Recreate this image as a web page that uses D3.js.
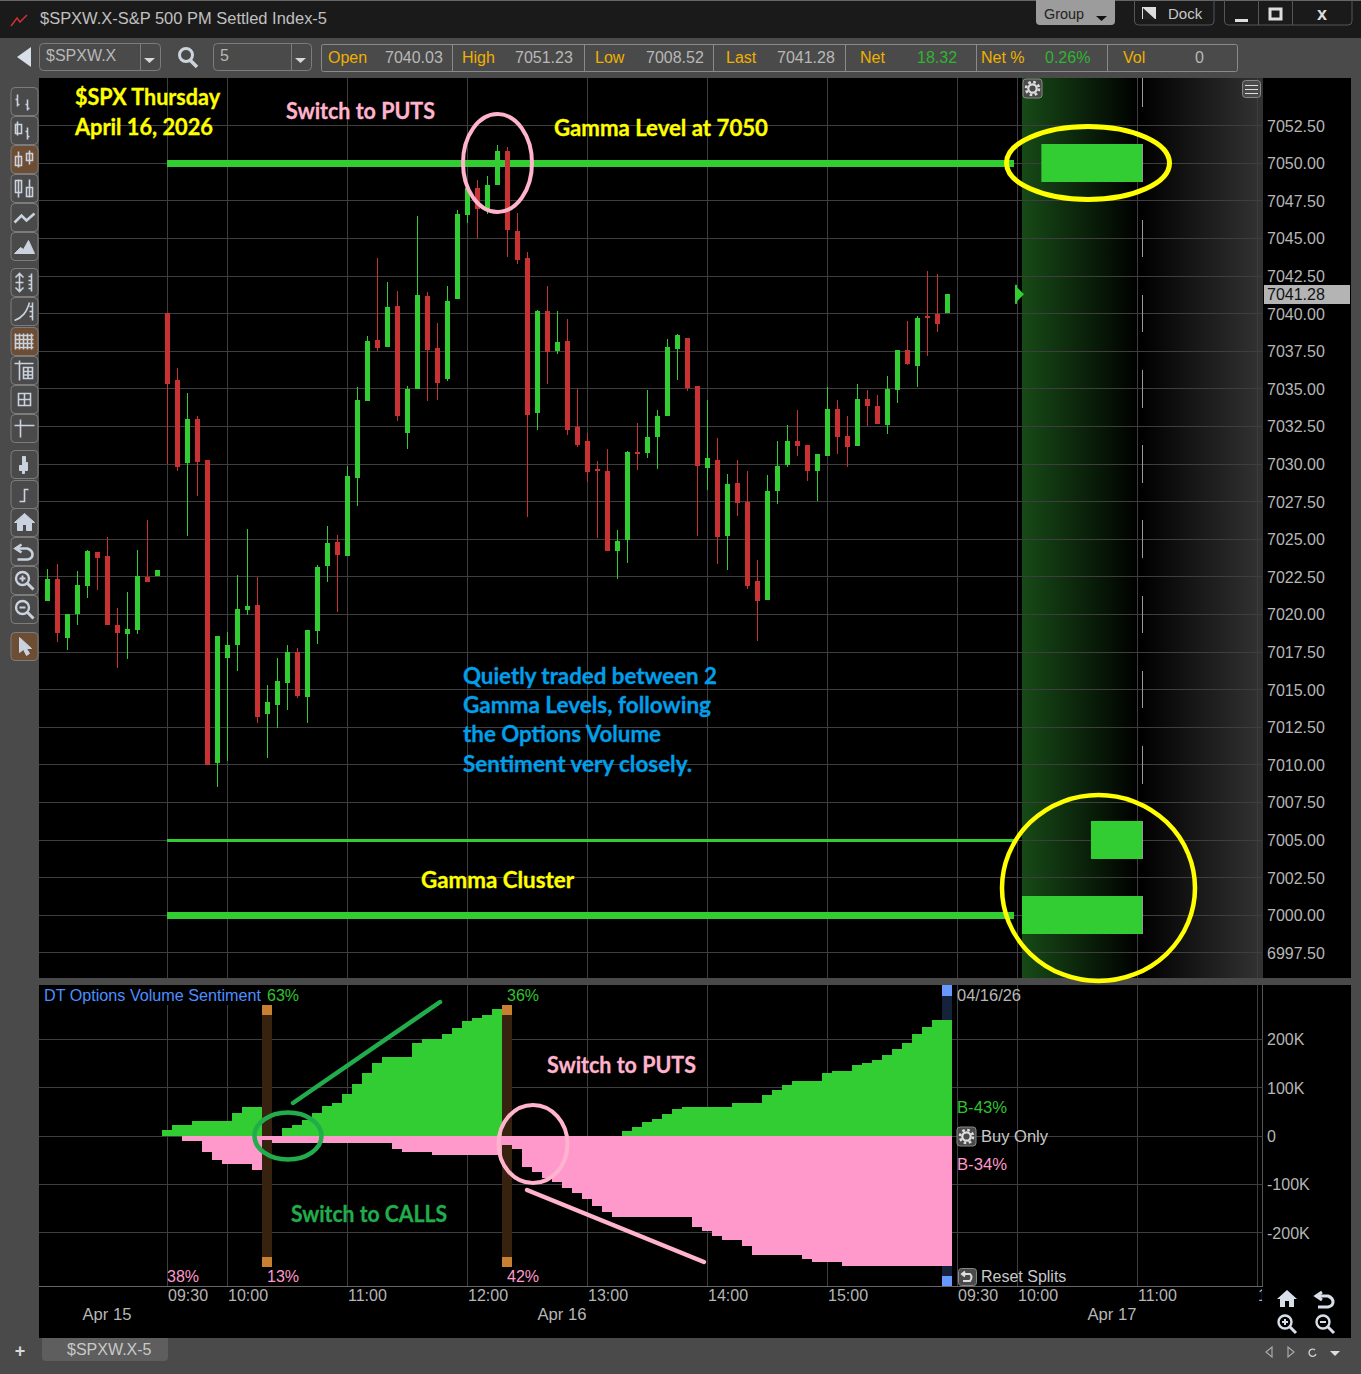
<!DOCTYPE html>
<html><head><meta charset="utf-8">
<script src="https://cdn.jsdelivr.net/npm/d3@7/dist/d3.min.js"></script>
<style>
html,body{margin:0;padding:0;background:#4a4a4a;overflow:hidden}
svg{display:block}
text{font-family:"Liberation Sans",Arial,sans-serif;dominant-baseline:central}
.note{font-family:Lato,"Open Sans",sans-serif;font-weight:700;stroke-width:.3px}
.axis path.domain{display:none}
.axis text{fill:#b6b6b6;font-size:16px;font-family:"Liberation Sans",Arial,sans-serif;dominant-baseline:central}
</style></head><body><div id="c"></div>
<script>
// ---------- data: 5-minute candles, Apr 15 tail then Apr 16 session
const opens=[7020.89,7022.35,7018.43,7020.03,7021.89,7024.15,7023.88,7019.29,7018.70,7018.96,7022.49,7022.55,
7040.03,7035.59,7030.07,7032.99,7030.27,7010.12,7017.10,7017.97,7020.29,7020.62,7013.38,7013.98,7015.44,7017.50,7014.51,7018.90,7023.22,7024.81,7023.88,7029.07,7034.19,7038.24,7037.78,7040.51,7032.06,7034.99,7041.17,7037.71,7035.65,7040.97,7046.56,7048.35,7046.89,7048.55,7050.81,7045.49,7043.70,7033.39,7040.17,7037.51,7038.18,7032.46,7031.53,7029.67,7029.53,7024.22,7024.95,7030.80,7030.73,7031.79,7033.19,7037.65,7038.38,7035.19,7029.73,7030.27,7025.21,7028.74,7027.47,7022.22,7020.96,7028.20,7029.93,7031.53,7031.26,7029.53,7030.53,7033.66,7031.86,7031.20,7034.32,7033.86,7032.59,7034.92,7037.58,7036.52,7039.84,7039.97,7040.04];
const highs=[7023.02,7023.35,7020.03,7022.89,7024.28,7024.15,7025.15,7020.43,7021.49,7024.28,7026.28,7022.95,
7040.03,7036.38,7034.72,7033.19,7030.27,7018.56,7018.83,7022.62,7025.68,7022.49,7015.31,7017.10,7017.97,7017.77,7018.96,7023.28,7025.88,7025.28,7029.87,7035.12,7038.51,7043.70,7042.10,7041.50,7035.19,7046.49,7041.44,7039.37,7041.83,7046.89,7048.35,7048.88,7049.15,7051.23,7051.08,7046.69,7044.10,7040.24,7041.83,7040.17,7039.64,7034.99,7032.06,7030.20,7031.00,7025.61,7030.86,7032.73,7034.92,7033.59,7038.31,7038.64,7038.38,7035.19,7034.26,7031.73,7029.33,7030.27,7029.53,7023.62,7029.27,7031.53,7032.59,7033.59,7031.26,7030.66,7035.12,7034.26,7033.19,7035.32,7034.92,7034.59,7035.85,7037.58,7039.51,7039.84,7042.83,7042.63,7041.28];
const lows=[7020.89,7018.16,7017.63,7019.29,7021.09,7021.62,7019.29,7016.44,7017.03,7018.70,7022.15,7022.55,
7030.00,7029.53,7025.21,7027.87,7009.99,7008.52,7010.25,7016.24,7019.96,7012.78,7010.45,7012.45,7013.64,7014.44,7012.78,7018.03,7022.15,7020.16,7023.88,7027.21,7034.19,7037.51,7037.78,7032.86,7031.00,7034.99,7034.19,7034.26,7035.52,7040.97,7046.02,7045.03,7046.62,7048.55,7043.76,7043.30,7026.48,7032.26,7035.32,7037.31,7031.93,7031.13,7028.80,7025.08,7024.22,7022.35,7023.42,7029.60,7030.40,7029.67,7033.19,7035.59,7034.85,7025.21,7028.27,7023.35,7022.95,7026.54,7021.69,7018.23,7020.96,7027.34,7029.80,7030.53,7028.87,7027.54,7030.53,7030.66,7029.80,7031.20,7032.53,7032.66,7031.99,7034.06,7036.58,7035.12,7037.18,7038.78,7040.04];
const closes=[7022.35,7018.76,7020.03,7021.95,7024.22,7023.75,7019.29,7018.76,7019.03,7022.55,7022.15,7022.95,
7035.32,7029.80,7032.99,7030.13,7009.99,7018.56,7017.97,7020.36,7020.56,7013.18,7014.18,7015.57,7017.50,7014.57,7018.96,7023.15,7024.75,7023.95,7029.20,7034.26,7038.18,7037.71,7040.44,7033.19,7034.99,7041.24,7037.58,7035.39,7040.84,7046.62,7048.35,7046.95,7048.55,7050.81,7045.56,7043.56,7033.26,7040.17,7037.45,7038.11,7032.26,7031.26,7029.47,7029.53,7024.22,7024.88,7030.80,7030.66,7031.79,7033.19,7037.78,7038.58,7035.05,7029.87,7030.40,7025.15,7028.67,7027.41,7021.89,7020.89,7028.20,7029.87,7031.53,7031.20,7029.53,7030.66,7033.66,7031.79,7031.13,7034.32,7033.86,7032.66,7034.99,7037.58,7036.65,7039.71,7039.71,7039.31,7041.28];
const priceTicks=[6997.5,7000,7002.5,7005,7007.5,7010,7012.5,7015,7017.5,7020,7022.5,7025,7027.5,7030,7032.5,7035,7037.5,7040,7042.5,7045,7047.5,7050,7052.5];
const lastPrice=7041.28;
// gamma profile
const gammaStrikes=[7055,7050,7045,7040,7035,7030,7025,7020,7015,7010,7005,7000];
const gammaVolumes=[0.8,84,0.8,0.8,0.8,0.8,0.8,0.8,0.8,0.8,43,100];
const gammaLines=[7050,7005,7000];
const gammaLineWeights=[7,3,7];
// options volume sentiment (thousands), one value per Apr 16 bar
const buySide=[12.4,22.7,22.7,30.9,30.9,30.9,30.9,47.4,59.8,59.8,0,0,16.5,22.7,33,47.4,61.8,68,86.6,107,130,150.5,163,163,163,192,200,200,210,223,237,243,249,262,
0,0,0,0,0,0,0,0,0,0,0,0,
10.3,18.6,28.9,35,45.3,55.6,59.8,59.8,59.8,59.8,59.8,68,68,68,84.5,94.8,105,113,113,113,130,134,134,146,150.5,156.6,167,179,192,210,225,239,239];
const sellSide=[0,0,10.3,10.3,33,49.5,57.7,57.7,57.7,70,8.2,14.4,14.4,14.4,14.4,14.4,14.4,14.4,14.4,14.4,14.4,14.4,14.4,26.8,33,33,33,39.2,39.2,39.2,39.2,39.2,39.2,39.2,
18.6,26.8,64,74,86.6,94.8,107,117.5,130,144,156.6,167,167,167,167,167,167,167,167,187.6,195.8,206,214,214,226.7,245,245,245,245,245,253.5,259.7,259.7,259.7,268,268,268,268,268,268,268,268,268,268,268];
const sentimentTicks=[-200,-100,0,100,200];
const splitBars=[10,34];
const timeLabels=["09:30","10:00","11:00","12:00","13:00","14:00","15:00","09:30","10:00","11:00","12:00"];
const timeSlots=[12,18,30,42,54,66,78,91,97,109,121];
const dayLabels=["Apr 15","Apr 16","Apr 17"];
const daySlots=[6,51.5,106.5];
const quoteLabels=["Open","High","Low","Last","Net","Net %","Vol"];
const quoteValues=["7040.03","7051.23","7008.52","7041.28","18.32","0.26%","0"];

// ---------- scales
const W=1361,H=1374;
const GREEN="#32cd32",RED="#c93232",PINK="#ff99cc",GRID="#3e3e3e";
const xB=d3.scaleLinear().domain([0,1]).range([47,57]);
const yP=d3.scaleLinear().domain([7000,7050]).range([915.2,163.2]);
const yS=d3.scaleLinear().domain([-100,100]).range([1184.4,1087.6]);
const xG=d3.scaleLinear().domain([0,100]).range([1143,1022]);
const OFF=12; // first Apr 16 bar slot

const svg=d3.select("#c").append("svg").attr("width",W).attr("height",H);
const defs=svg.append("defs");
function grad(id,a,b){const g=defs.append("linearGradient").attr("id",id);g.append("stop").attr("offset",0).attr("stop-color",a);g.append("stop").attr("offset",1).attr("stop-color",b);}
grad("gGreen","#174a17","#000000");grad("gGray","#000000","#333333");
defs.append("clipPath").attr("id","clipTop").append("rect").attr("x",39).attr("y",78).attr("width",1224).attr("height",900);
defs.append("clipPath").attr("id","clipTime").append("rect").attr("x",39).attr("y",1286).attr("width",1223).attr("height",30);

function R(p,x,y,w,h,f,o={}){const r=p.append("rect").attr("x",x).attr("y",y).attr("width",w).attr("height",h).attr("fill",f);
 if(o.stroke)r.attr("stroke",o.stroke).attr("stroke-width",o.sw||1);if(o.rx)r.attr("rx",o.rx);return r;}
function T(p,x,y,s,fill,size,o={}){const t=p.append("text").attr("x",x).attr("y",y).text(s).attr("fill",fill).attr("font-size",size);
 if(o.anchor)t.attr("text-anchor",o.anchor);if(o.cls)t.attr("class",o.cls).attr("dy",-1).attr("stroke",fill);if(o.len)t.attr("textLength",o.len).attr("lengthAdjust","spacingAndGlyphs");return t;}
function L(p,x1,y1,x2,y2,c,w=1,o={}){const l=p.append("line").attr("x1",x1).attr("y1",y1).attr("x2",x2).attr("y2",y2).attr("stroke",c).attr("stroke-width",w);if(o.cap)l.attr("stroke-linecap",o.cap);return l;}

// ---------- chrome
R(svg,0,0,W,H,"#4a4a4a");
R(svg,0,0,W,38,"#1a1a1a");
L(svg,0,0.5,W,0.5,"#666");
svg.append("path").attr("d","M11 26L17 18L20 22L27 15").attr("fill","none").attr("stroke","#c93232").attr("stroke-width",1.6);
T(svg,40,18,"$SPXW.X-S&P 500 PM Settled Index-5","#c0c0c0",16,{len:287});
// group / dock / window buttons
svg.append("path").attr("d","M1036 0H1115V21a4 4 0 0 1-4 4H1040a4 4 0 0 1-4-4Z").attr("fill","#9c9c9c");
T(svg,1044,13,"Group","#222",15,{len:40});
svg.append("path").attr("d","M1096 16h11l-5.5 5Z").attr("fill","#111");
svg.append("path").attr("d","M1134.5 0V21a4 4 0 0 0 4 4H1210a4 4 0 0 0 4-4V0").attr("fill","none").attr("stroke","#555");
R(svg,1142,7,14,12,"#ddd");svg.append("path").attr("d","M1143 8L1155 19H1143Z").attr("fill","#222");
T(svg,1168,13,"Dock","#c8c8c8",15);
svg.append("path").attr("d","M1224.5 0V21a4 4 0 0 0 4 4H1348a4 4 0 0 0 4-4V0").attr("fill","none").attr("stroke","#555");
L(svg,1258.5,0,1258.5,25,"#555");L(svg,1292.5,0,1292.5,25,"#555");
R(svg,1235,19,13,3,"#ddd");
R(svg,1270,9,11,10,"none",{stroke:"#ddd",sw:3});
T(svg,1322,14,"x","#ddd",18,{anchor:"middle"}).attr("font-weight",700);
// toolbar
svg.append("path").attr("d","M31 47V67L17 57Z").attr("fill","#d8dfe8");
function combo(x,w,d,s){R(svg,x+.5,43.5,w,27,"#4a4a4a",{stroke:"#7c7c7c",rx:4});L(svg,d+.5,44,d+.5,70,"#7c7c7c");T(svg,x+7,55,s,"#b8b8b8",16);
 svg.append("path").attr("d",`M${d+4} 58h11l-5.5 5Z`).attr("fill","#d8d8d8");}
combo(39,121,140,"$SPXW.X");combo(213,98,291,"5");
svg.append("circle").attr("cx",186).attr("cy",55).attr("r",6.5).attr("fill","none").attr("stroke","#ccd4dd").attr("stroke-width",3);
L(svg,190,60,197,67,"#ccd4dd",3.5);
R(svg,321.5,44.5,916,27,"#4a4a4a",{stroke:"#8a8a8a",rx:2});
[452,584,713,845,976,1107].forEach(x=>L(svg,x+.5,45,x+.5,71,"#8a8a8a"));
const qlx=[328,462,595,726,860,981,1123],qvx=[385,515,646,777,917,1045,1195];
quoteLabels.forEach((s,i)=>T(svg,qlx[i],57.5,s,"#f0b000",16));
quoteValues.forEach((s,i)=>T(svg,qvx[i],57.5,s,(i==4||i==5)?"#2fb52f":"#b8b8b8",16));
// black chart area
R(svg,39,78,1312,1260,"#000");
// separator
R(svg,39,978,1312,7,"#4a4a4a");

// ---------- top panel
const topG=svg.append("g").attr("clip-path","url(#clipTop)");
R(topG,1022,78,116,900,"url(#gGreen)");
R(topG,1140,78,123,900,"url(#gGray)");
// grid
topG.append("g").selectAll("line").data(priceTicks).join("line").attr("x1",39).attr("x2",1262)
 .attr("y1",d=>Math.floor(yP(d))+.5).attr("y2",d=>Math.floor(yP(d))+.5).attr("stroke",GRID);
topG.append("g").selectAll("line").data(timeSlots).join("line").attr("y1",78).attr("y2",978)
 .attr("x1",d=>xB(d)+.5).attr("x2",d=>xB(d)+.5).attr("stroke",GRID);
// gamma level lines
gammaLines.forEach((lv,i)=>R(topG,xB(OFF),Math.round(yP(lv)-gammaLineWeights[i]/2),1014-xB(OFF),gammaLineWeights[i],GREEN));
// candles
const idx=d3.range(opens.length);
const cg=topG.append("g");
cg.selectAll("rect.w").data(idx).join("rect").attr("class","w")
 .attr("x",i=>xB(i)).attr("width",1)
 .attr("y",i=>Math.round(yP(highs[i]))).attr("height",i=>Math.round(yP(lows[i]))-Math.round(yP(highs[i])))
 .attr("fill",i=>closes[i]>=opens[i]?GREEN:RED);
cg.selectAll("rect.b").data(idx).join("rect").attr("class","b")
 .attr("x",i=>xB(i)-2).attr("width",5)
 .attr("y",i=>Math.round(yP(Math.max(opens[i],closes[i]))))
 .attr("height",i=>Math.max(2,Math.round(yP(Math.min(opens[i],closes[i])))-Math.round(yP(Math.max(opens[i],closes[i])))))
 .attr("fill",i=>closes[i]>=opens[i]?GREEN:RED);
// gamma profile bars
topG.append("g").selectAll("rect").data(gammaStrikes).join("rect")
 .attr("x",1142).attr("width",1).attr("y",d=>Math.round(yP(d+1.25))).attr("height",d=>Math.round(yP(d-1.25))-Math.round(yP(d+1.25))).attr("fill","#999");
topG.append("g").selectAll("rect").data(gammaStrikes.filter((d,i)=>gammaVolumes[i]>5)).join("rect")
 .attr("x",d=>xG(gammaVolumes[gammaStrikes.indexOf(d)])).attr("width",d=>1142-xG(gammaVolumes[gammaStrikes.indexOf(d)]))
 .attr("y",d=>Math.round(yP(d+1.25))).attr("height",d=>Math.round(yP(d-1.25))-Math.round(yP(d+1.25))).attr("fill",GREEN);
// last price marker
const ly=yP(lastPrice);
R(svg,1015,ly-9.5,2,19,GREEN);
svg.append("path").attr("d",`M1017 ${ly-7}L1024 ${ly}L1017 ${ly+7}Z`).attr("fill",GREEN);

// price axis
svg.append("g").attr("class","axis").attr("transform","translate(1263,0)")
 .call(d3.axisRight(yP).tickValues(priceTicks).tickFormat(d3.format(".2f")).tickSize(0).tickPadding(4))
 .selectAll("text").attr("dy",0);
R(svg,1264,Math.round(ly)-9,86,19,"#b4b4b4");
T(svg,1267,ly+0.5,d3.format(".2f")(lastPrice),"#111",16);

// annotations top
function ell(p,cx,cy,rx,ry,c,w){p.append("ellipse").attr("cx",cx).attr("cy",cy).attr("rx",rx).attr("ry",ry).attr("fill","none").attr("stroke",c).attr("stroke-width",w);}
ell(svg,497.5,163,34.5,49,"#ffb3cc",4);
ell(svg,1088,163,81.5,36.5,"#ffff00",5);
ell(svg,1098.5,888,96.5,93,"#ffff00",4.5);
const Y="#ffff00";
T(svg,75,97,"$SPX Thursday",Y,22,{cls:"note",len:145});
T(svg,75,127,"April 16, 2026",Y,22,{cls:"note",len:138});
T(svg,286,111,"Switch to PUTS","#ffb3cc",22,{cls:"note",len:149});
T(svg,554,128,"Gamma Level at 7050",Y,22,{cls:"note",len:214});
const BL="#009fe8";
T(svg,463,676,"Quietly traded between 2",BL,22,{cls:"note",len:254});
T(svg,463,705,"Gamma Levels, following",BL,22,{cls:"note",len:248});
T(svg,463,734,"the Options Volume",BL,22,{cls:"note",len:198});
T(svg,463,764,"Sentiment very closely.",BL,22,{cls:"note",len:229});
T(svg,421,880,"Gamma Cluster",Y,22,{cls:"note",len:153});

// gear and menu button on panel
function gear(p,cx,cy){R(p,cx-9.5,cy-9.5,19,19,"#4a4a4a",{stroke:"#888",rx:3});
 p.append("circle").attr("cx",cx).attr("cy",cy).attr("r",6.5).attr("fill","none").attr("stroke","#ddd").attr("stroke-width",2.6).attr("stroke-dasharray","2.6 2.5");
 p.append("circle").attr("cx",cx).attr("cy",cy).attr("r",4.2).attr("fill","none").attr("stroke","#ddd").attr("stroke-width",2.2);}
gear(svg,1032.5,88.5);
R(svg,1242.5,80.5,18,17,"#4a4a4a",{stroke:"#888",rx:3});
[85,89,93].forEach(y=>L(svg,1245,y+.5,1258,y+.5,"#ddd"));

// ---------- sentiment panel
const sub=svg.append("g");
sub.append("g").selectAll("line").data(sentimentTicks).join("line").attr("x1",39).attr("x2",1262)
 .attr("y1",d=>Math.floor(yS(d))+.5).attr("y2",d=>Math.floor(yS(d))+.5).attr("stroke",GRID);
sub.append("g").selectAll("line").data(timeSlots).join("line").attr("y1",985).attr("y2",1286)
 .attr("x1",d=>xB(d)+.5).attr("x2",d=>xB(d)+.5).attr("stroke",GRID);
L(sub,1262.5,985,1262.5,1286,"#555");L(sub,39,1286.5,1263,1286.5,"#666");
R(sub,39,985,262,20,"#000");
// split bands
splitBars.forEach(b=>{const x=xB(b+OFF)-5;
 R(sub,x,1005,10,262,"#36220f");R(sub,x,1005,10,10,"#c97f30");R(sub,x,1257,10,10,"#c97f30");});
const xe=xB(78+OFF)-5;
R(sub,xe,985,10,301,"#16213a");R(sub,xe,985,10,11,"#6699ff");R(sub,xe,1276,10,10,"#6699ff");
// bars
sub.append("g").selectAll("rect").data(buySide).join("rect")
 .attr("x",(d,i)=>xB(i+OFF)-5).attr("width",10).attr("y",d=>Math.round(yS(d))).attr("height",d=>Math.round(yS(0))-Math.round(yS(d))).attr("fill",GREEN);
sub.append("g").selectAll("rect").data(sellSide).join("rect")
 .attr("x",(d,i)=>xB(i+OFF)-5).attr("width",10).attr("y",Math.round(yS(0))).attr("height",d=>Math.round(yS(-d))-Math.round(yS(0))).attr("fill",PINK);
// sentiment axis
svg.append("g").attr("class","axis").attr("transform","translate(1263,0)")
 .call(d3.axisRight(yS).tickValues(sentimentTicks).tickFormat(d=>d===0?"0":d+"K").tickSize(0).tickPadding(4))
 .selectAll("text").attr("dy",0);
// time axis
svg.append("g").attr("class","axis").attr("clip-path","url(#clipTime)").attr("transform","translate(0,0)")
 .call(d3.axisBottom(xB).tickValues(timeSlots).tickFormat((d,i)=>timeLabels[i]).tickSize(0).tickPadding(0))
 .selectAll("text").attr("text-anchor","start").attr("y",1295).attr("dy",0).attr("dx",0.5);
dayLabels.forEach((s,i)=>T(svg,xB(daySlots[i]),1314,s,"#b6b6b6",16,{anchor:"middle",len:49}));
// sentiment labels
T(svg,44,995,"DT Options Volume Sentiment","#4d8fff",16,{len:217});
const G2="#2fc42f";
T(svg,267,995,"63%",G2,16);T(svg,507,995,"36%",G2,16);
T(svg,167,1276,"38%",PINK,16);T(svg,267,1276,"13%",PINK,16);T(svg,507,1276,"42%",PINK,16);
T(svg,957,995,"04/16/26","#b6b6b6",16,{len:64});
T(svg,957,1107,"B-43%",G2,16,{len:50});T(svg,957,1164,"B-34%",PINK,16,{len:50});
gear(svg,966.5,1136.5);T(svg,981,1136,"Buy Only","#c8c8c8",16,{len:67});
R(svg,958.5,1268.5,18,17,"#4a4a4a",{stroke:"#888",rx:3});
svg.append("path").attr("d","M962 1274H970Q973 1276.5 970 1281H963M965 1271.5L962 1274L965 1276.5").attr("fill","none").attr("stroke","#ddd").attr("stroke-width",2);
T(svg,981,1276,"Reset Splits","#c8c8c8",16);
// annotations lower
const GA="#22ad4c",PA="#ffb3cc";
L(svg,293,1103,440,1002,GA,4.5,{cap:"round"});
ell(svg,288,1136,33.5,23.5,GA,4.5);
T(svg,291,1214,"Switch to CALLS",GA,22,{cls:"note",len:156});
L(svg,527,1190,704,1262,PA,4.5,{cap:"round"});
ell(svg,533,1144,34.5,39,PA,4);
T(svg,547,1065,"Switch to PUTS",PA,22,{cls:"note",len:149});

// ---------- toolbar icons, left
const ICON="#c9d2de";
const btns=[[87,0],[116,0],[145,1],[174,0],[203,0],[232,0],[268,0],[297,0],[327,1],[356,0],[385,0],[414,0],[450,0],[480,0],[508,0],[537,0],[566,0],[595,0],[632,1]];
const icons=[
 "M-7 -7V5M-9 -2h2M-7 3h2M3 -2V9M1 3h2M3 7h2",
 "M-7 -9V5M-9 -6h6v9h-6zM3 -3V9M1 1h2M3 6h2",
 "M-6 -8V8M-9 -3h6v9h-6zM5 -9V5M2 -6h6v7h-6z",
 "M-6 -9V9M-9 -8h6v12h-6zM5 -9V9M2 -1h6v9h-6z",
 "M-10 5L-3 -2L2 3L10 -4",
 "M-10 7L-4 1L-1 3L4 -6L10 7Z",
 "M-5 -9V9M-9 -5L-5 -9L-1 -5M-9 5L-5 9L-1 5M-9 0h8M7 -9V9M4 -6h3M4 -2h3M4 2h3M4 6h3",
 "M-10 9C-2 6 2 1 5 -9M8 -9V9M5 -5h3M5 0h3M5 5h3",
 "M-9 -8V8M-5 -8V8M-1 -8V8M3 -8V8M7 -8V8M-10 -6H9M-10 -2H9M-10 2H9M-10 6H9",
 "M-5 -10V10M-10 -7H9M-1 -3V8H8V-3ZM-1 1H8M-1 4.5H8M3.5 -3V8",
 "M-6 -6V6H6V-6ZM-6 0H6M0 -6V6",
 "M-4 -9V9M-10 -3H10",
 "M-2 -8h3v6h2v8h-3v3h-2v-3h-3v-5h3Z",
 "M-3 7H0V-5H4M-5 7H0",
 "M-10 0L0 -9L10 0H7V8H2V2H-2V8H-7V0Z",
 "M-3 -7L-9 -3L-3 1M-8 -3H3Q8 -1 8 3Q8 7 3 8H-7",
 "Z","Z",
 "M-5 -9V6L-1 3L2 9L5 7L2 2H7Z"];
btns.forEach(([y,on],i)=>{const g=svg.append("g").attr("transform",`translate(24.5,${y+14.5})`);
 R(g,-13.5,-14,27,28,on?"#6d4d33":"#4a4a4a",{stroke:"#7c7c7c",rx:4});
 const filled=[5,12,14,18].includes(i);
 if(i==16||i==17){g.append("circle").attr("cx",-2).attr("cy",-2).attr("r",6.5).attr("fill","none").attr("stroke",ICON).attr("stroke-width",2.4);
  L(g,3,3,9,9,ICON,3);L(g,-5,-2,1,-2,ICON,2);if(i==16)L(g,-2,-5,-2,1,ICON,2);}
 else g.append("path").attr("d",icons[i]).attr("fill",filled?ICON:"none").attr("stroke",ICON).attr("stroke-width",filled?1:(i==4||i==15?2.6:1.6));
});
// bottom right black icons
function homeI(x,y,s){svg.append("path").attr("transform",`translate(${x},${y}) scale(${s})`).attr("d",icons[14]).attr("fill","#d8dfe8");}
homeI(1287,1299,1);
svg.append("path").attr("transform","translate(1325,1299)").attr("d",icons[15]).attr("fill","none").attr("stroke","#d8dfe8").attr("stroke-width",3);
[[1287,1324,1],[1325,1324,0]].forEach(([x,y,p])=>{const g=svg.append("g").attr("transform",`translate(${x},${y})`);
 g.append("circle").attr("cx",-2).attr("cy",-2).attr("r",6.5).attr("fill","none").attr("stroke","#d8dfe8").attr("stroke-width",2.4);
 L(g,3,3,9,9,"#d8dfe8",3);L(g,-5,-2,1,-2,"#d8dfe8",2);if(p)L(g,-2,-5,-2,1,"#d8dfe8",2);});
// status bar
svg.append("path").attr("d","M42 1338H168V1357a4 4 0 0 1-4 4H46a4 4 0 0 1-4-4Z").attr("fill","#5e5e5e");
T(svg,67,1349,"$SPXW.X-5","#c8c8c8",16);
T(svg,20,1351,"+","#d8d8d8",18,{anchor:"middle"}).attr("font-weight",700);
svg.append("path").attr("d","M1272 1347V1357L1266 1352Z").attr("fill","none").attr("stroke","#aaa").attr("stroke-width",1.2);
svg.append("path").attr("d","M1288 1347V1357L1294 1352Z").attr("fill","none").attr("stroke","#aaa").attr("stroke-width",1.2);
svg.append("path").attr("d","M1315 1350A3.6 3.6 0 1 0 1316 1354").attr("fill","none").attr("stroke","#ccc").attr("stroke-width",1.4);
svg.append("path").attr("d","M1330 1351h10l-5 5Z").attr("fill","#ddd");
</script></body></html>
